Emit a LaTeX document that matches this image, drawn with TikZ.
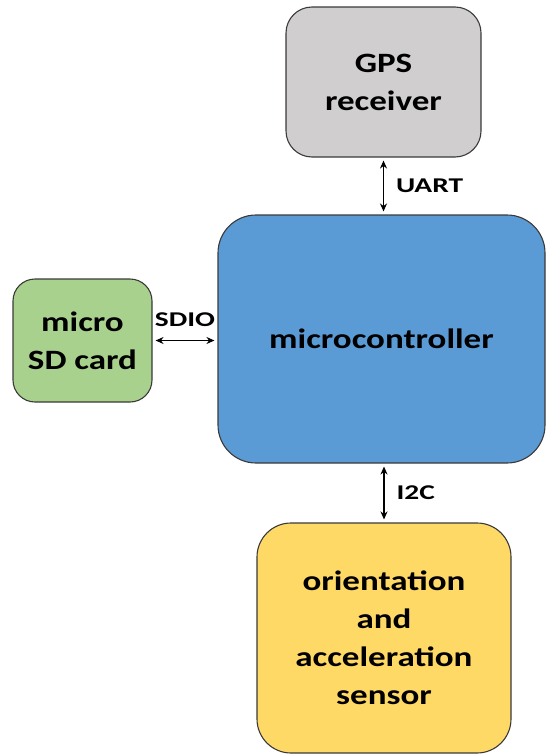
\documentclass[tikz,border=0pt]{standalone}
\usepackage{fontspec}
\setmainfont{Carlito}
\newfontfamily\unitfont[FakeStretch=1.25]{Carlito}
\newfontfamily\busfont[FakeStretch=1.4]{Carlito}
\usetikzlibrary{arrows.meta,positioning,calc}
\definecolor{gpsgray}{HTML}{D0CECE}
\definecolor{mcublue}{HTML}{5B9BD5}
\definecolor{sdgreen}{HTML}{A9D18E}
\definecolor{sensyellow}{HTML}{FFD966}
\definecolor{edgedark}{HTML}{3A3A3A}

\begin{document}
\begin{tikzpicture}[
    x=1pt, y=-1pt,
    unit/.style={draw=edgedark, rectangle, line width=1.1pt, align=center, inner sep=0pt, font=\unitfont\fontsize{28}{38}\selectfont\bfseries},
    bus/.style={{Stealth[length=8pt,width=7pt]}-{Stealth[length=8pt,width=7pt]}, draw=black, line width=1.1pt, shorten <=3pt, shorten >=3pt},
    buslabel/.style={font=\busfont\fontsize{21}{24}\selectfont\bfseries, inner sep=2pt}
  ]
    \useasboundingbox (0,0) rectangle (546,755);
    \node[unit, fill=gpsgray, rounded corners=26pt, minimum width=195pt, minimum height=150pt] (gps) at (383.5,82) {GPS\\receiver};
    \node[unit, fill=mcublue, rounded corners=38pt, minimum width=327pt, minimum height=248pt] (mcu) at (381.5,339) {microcontroller};
    \node[unit, fill=sdgreen, rounded corners=22pt, minimum width=139pt, minimum height=123pt] (sd) at (82.5,340.5) {micro\\SD card};
    \node[unit, fill=sensyellow, rounded corners=34pt, minimum width=254pt, minimum height=230pt] (sensor) at (384,638) {orientation\\and\\acceleration\\sensor};
    \draw[bus] (gps.south) -- node[buslabel, right=10pt] {UART} (gps.south |- mcu.north);
    \draw[bus] (sd.east) -- node[buslabel, above=11pt] {SDIO} (sd.east -| mcu.west);
    \draw[bus] (sensor.north) -- node[buslabel, right=10pt] {I2C} (sensor.north |- mcu.south);
\end{tikzpicture}
\end{document}
